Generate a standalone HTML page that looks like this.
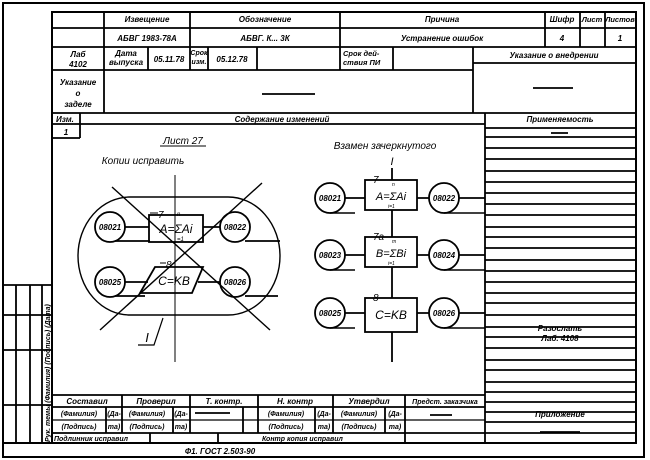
<!DOCTYPE html>
<html><head><meta charset="utf-8"><style>
html,body{margin:0;padding:0;background:#fff}
svg{display:block}
text{font-family:"Liberation Sans",sans-serif;font-style:italic;fill:#000}
</style></head><body>
<svg width="650" height="460" viewBox="0 0 650 460" xmlns="http://www.w3.org/2000/svg">
<g stroke="#000" stroke-width="1.8" fill="none">
<path d="M3 3H644V457H3Z" stroke-width="2"/>
<line x1="3" y1="443" x2="636" y2="443" stroke-width="2"/>
<path d="M52 12H636V443H52Z" stroke-width="2"/>
<line x1="52" y1="28" x2="636" y2="28"/>
<line x1="52" y1="47" x2="636" y2="47"/>
<line x1="52" y1="70" x2="473" y2="70"/>
<line x1="473" y1="63" x2="636" y2="63"/>
<line x1="52" y1="113" x2="636" y2="113"/>
<line x1="52" y1="124" x2="485" y2="124"/>
<line x1="104" y1="12" x2="104" y2="70"/>
<line x1="190" y1="12" x2="190" y2="70"/>
<line x1="340" y1="12" x2="340" y2="70"/>
<line x1="545" y1="12" x2="545" y2="47"/>
<line x1="580" y1="12" x2="580" y2="47"/>
<line x1="605" y1="12" x2="605" y2="47"/>
<line x1="148" y1="47" x2="148" y2="70"/>
<line x1="208" y1="47" x2="208" y2="70"/>
<line x1="257" y1="47" x2="257" y2="70"/>
<line x1="393" y1="47" x2="393" y2="70"/>
<line x1="473" y1="47" x2="473" y2="113"/>
<line x1="104" y1="70" x2="104" y2="113"/>
<line x1="262" y1="94" x2="315" y2="94"/>
<line x1="533" y1="88" x2="573" y2="88"/>
<line x1="551" y1="133" x2="568" y2="133"/>
<line x1="80" y1="113" x2="80" y2="138"/>
<line x1="52" y1="138" x2="80" y2="138"/>
<line x1="485" y1="113" x2="485" y2="443"/>
<path d="M485 128H636M485 137H636M485 148H636M485 159H636M485 171H636M485 182H636M485 193H636M485 204H636M485 215H636M485 227H636M485 237H636M485 248H636M485 260H636M485 271H636M485 282H636M485 293H636M485 303H636M485 315H636M485 327H636M485 337H636M485 348H636M485 360H636M485 370H636M485 382H636M485 392H636M485 402H636M485 412H636M485 422H636M485 433H636"/>
<line x1="540" y1="432" x2="580" y2="432"/>
<line x1="52" y1="395" x2="485" y2="395"/>
<line x1="52" y1="407" x2="485" y2="407"/>
<line x1="52" y1="420" x2="485" y2="420" stroke-width="1.2"/>
<line x1="52" y1="433" x2="485" y2="433"/>
<path d="M122 395V433M190 395V433M258 395V433M333 395V433M405 395V443M106 407V433M173 407V433M243 407V433M315 407V433M385 407V433M150 433V443M218 433V443"/>
<line x1="195" y1="413" x2="230" y2="413"/>
<line x1="430" y1="415" x2="452" y2="415"/>
<path d="M3 285H52M3 315H52M3 350H52M3 405H52M16 285V443M30 285V443M42 285V443"/>
<path d="M130 197H228A52 59 0 0 1 228 315H130A52 59 0 0 1 130 197Z" stroke-width="1.4"/>
<line x1="175" y1="175" x2="175" y2="362" stroke-width="1"/>
<circle cx="110" cy="227" r="15"/><circle cx="235" cy="227" r="15"/>
<circle cx="110" cy="282" r="15"/><circle cx="235" cy="282" r="15"/>
<rect x="149" y="215" width="54" height="27"/>
<path d="M155 267H203L192 293H140Z"/>
<path d="M125 227H149M203 227H220M115 241H150M245 241H280M125 282H148M198 282H220M115 296H145M245 296H278"/>
<line x1="112" y1="187" x2="270" y2="330" stroke-width="1.4"/>
<line x1="262" y1="183" x2="100" y2="330" stroke-width="1.4"/>
<path d="M163 318L154 345H138" stroke-width="1.2"/>
<line x1="150" y1="213" x2="158" y2="213" stroke-width="1"/>
<line x1="160" y1="263" x2="166" y2="263" stroke-width="1"/>
<line x1="160" y1="146" x2="206" y2="146" stroke-width="1"/>
<line x1="392" y1="168" x2="392" y2="362"/>
<rect x="365" y="180" width="52" height="30" fill="#fff"/>
<rect x="365" y="237" width="52" height="30" fill="#fff"/>
<rect x="365" y="298" width="52" height="34" fill="#fff"/>
<circle cx="330" cy="198" r="15"/><circle cx="444" cy="198" r="15"/>
<circle cx="330" cy="255" r="15"/><circle cx="444" cy="255" r="15"/>
<circle cx="330" cy="313" r="15"/><circle cx="444" cy="313" r="15"/>
<path d="M345 198H365M417 198H429M459 198H485M345 255H365M417 255H429M459 255H485M345 313H365M417 313H429M459 313H485"/>
<path d="M330 213H355M444 213H485M330 270H355M444 270H485M330 328H355M444 328H485" stroke-width="1.4"/>
<path d="M368 180H373M368 237H373M368 298H373" stroke-width="1"/>
</g>
<g font-size="8" font-weight="bold">
<text x="147" y="22" text-anchor="middle">Извещение</text>
<text x="265" y="22" text-anchor="middle">Обозначение</text>
<text x="442" y="22" text-anchor="middle">Причина</text>
<text x="562" y="22" text-anchor="middle">Шифр</text>
<text x="592" y="22" text-anchor="middle" font-size="7.5">Лист</text>
<text x="620" y="22" text-anchor="middle" font-size="7.5">Листов</text>
<text x="147" y="41" text-anchor="middle">АБВГ 1983-78А</text>
<text x="265" y="41" text-anchor="middle">АБВГ. К... 3К</text>
<text x="442" y="41" text-anchor="middle">Устранение ошибок</text>
<text x="562" y="41" text-anchor="middle">4</text>
<text x="620" y="41" text-anchor="middle">1</text>
<text x="78" y="57" text-anchor="middle">Лаб</text>
<text x="78" y="67" text-anchor="middle">4102</text>
<text x="126" y="56" text-anchor="middle">Дата</text>
<text x="126" y="65" text-anchor="middle">выпуска</text>
<text x="169" y="62" text-anchor="middle">05.11.78</text>
<text x="199" y="55" text-anchor="middle" font-size="7">Срок</text>
<text x="199" y="64" text-anchor="middle" font-size="7">изм.</text>
<text x="232" y="62" text-anchor="middle">05.12.78</text>
<text x="343" y="56" font-size="7.5">Срок дей-</text>
<text x="343" y="65" font-size="7.5">ствия ПИ</text>
<text x="554" y="58" text-anchor="middle">Указание о внедрении</text>
<text x="78" y="85" text-anchor="middle">Указание</text>
<text x="78" y="96" text-anchor="middle">о</text>
<text x="78" y="107" text-anchor="middle">заделе</text>
<text x="56" y="122">Изм.</text>
<text x="282" y="122" text-anchor="middle">Содержание изменений</text>
<text x="560" y="122" text-anchor="middle">Применяемость</text>
<text x="66" y="135" text-anchor="middle">1</text>
<text x="560" y="331" text-anchor="middle">Разослать</text>
<text x="560" y="341" text-anchor="middle">Лаб. 4108</text>
<text x="560" y="417" text-anchor="middle">Приложение</text>
<text x="87" y="404" text-anchor="middle">Составил</text>
<text x="156" y="404" text-anchor="middle">Проверил</text>
<text x="224" y="404" text-anchor="middle">Т. контр.</text>
<text x="295" y="404" text-anchor="middle">Н. контр</text>
<text x="369" y="404" text-anchor="middle">Утвердил</text>
<text x="445" y="404" text-anchor="middle" font-size="7">Предст. заказчика</text>
<g font-size="7">
<text x="79" y="416" text-anchor="middle">(Фамилия)</text>
<text x="79" y="429" text-anchor="middle">(Подпись)</text>
<text x="114" y="416" text-anchor="middle">(Да-</text>
<text x="114" y="429" text-anchor="middle">та)</text>
<text x="147" y="416" text-anchor="middle">(Фамилия)</text>
<text x="147" y="429" text-anchor="middle">(Подпись)</text>
<text x="181" y="416" text-anchor="middle">(Да-</text>
<text x="181" y="429" text-anchor="middle">та)</text>
<text x="286" y="416" text-anchor="middle">(Фамилия)</text>
<text x="286" y="429" text-anchor="middle">(Подпись)</text>
<text x="324" y="416" text-anchor="middle">(Да-</text>
<text x="324" y="429" text-anchor="middle">та)</text>
<text x="359" y="416" text-anchor="middle">(Фамилия)</text>
<text x="359" y="429" text-anchor="middle">(Подпись)</text>
<text x="395" y="416" text-anchor="middle">(Да-</text>
<text x="395" y="429" text-anchor="middle">та)</text>
<text x="54" y="441">Подлинник исправил</text>
<text x="262" y="441">Контр копия исправил</text>
<text transform="translate(50,442) rotate(-90)">Рук. темы (Фамилия) (Подпись) (Дата)</text>
</g>
<text x="220" y="454" text-anchor="middle">Ф1. ГОСТ 2.503-90</text>
</g>
<g>
<text x="183" y="144" text-anchor="middle" font-size="10">Лист 27</text>
<text x="143" y="164" text-anchor="middle" font-size="10">Копии исправить</text>
<text x="385" y="149" text-anchor="middle" font-size="10">Взамен зачеркнутого</text>
<text x="392" y="165" text-anchor="middle" font-size="11" font-style="normal" font-family="Liberation Serif">I</text>
<text x="147" y="342" text-anchor="middle" font-size="13" font-style="normal" font-family="Liberation Serif">I</text>
<g font-size="8" text-anchor="middle" font-weight="bold">
<text x="110" y="230">08021</text><text x="235" y="230">08022</text>
<text x="110" y="285">08025</text><text x="235" y="285">08026</text>
<text x="330" y="201">08021</text><text x="444" y="201">08022</text>
<text x="330" y="258">08023</text><text x="444" y="258">08024</text>
<text x="330" y="316">08025</text><text x="444" y="316">08026</text>
</g>
<text x="158" y="218" font-size="10">7</text>
<text x="176" y="233" text-anchor="middle" font-size="12">A=ΣAi</text>
<text x="177" y="216" font-size="6">n</text><text x="177" y="241" font-size="6">=1</text>
<text x="166" y="268" font-size="10">8</text>
<text x="174" y="285" text-anchor="middle" font-size="12">C=KB</text>
<text x="373" y="183" font-size="10">7</text>
<text x="391" y="200" text-anchor="middle" font-size="11">A=ΣAi</text>
<text x="392" y="186" font-size="5">n</text><text x="388" y="208" font-size="5">i=1</text>
<text x="373" y="240" font-size="10">7a</text>
<text x="391" y="257" text-anchor="middle" font-size="11">B=ΣBi</text>
<text x="392" y="243" font-size="5">m</text><text x="388" y="265" font-size="5">i=1</text>
<text x="373" y="301" font-size="10">8</text>
<text x="391" y="319" text-anchor="middle" font-size="12" font-style="normal">C=KB</text>
</g>
</svg>
</body></html>
